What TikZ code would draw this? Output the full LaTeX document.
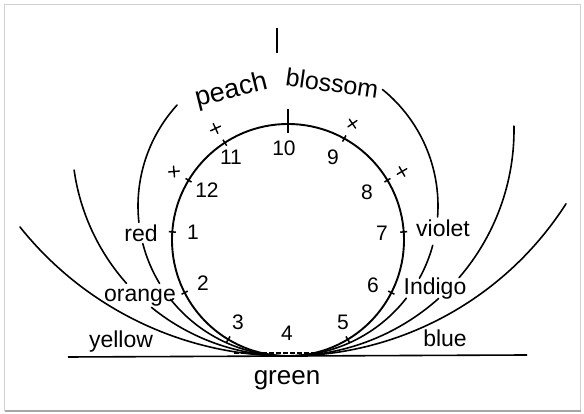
\documentclass[tikz,border=0pt]{standalone}
\usepackage{fontspec}
\setmainfont{Liberation Sans}
\begin{document}
\begin{tikzpicture}[x=1pt,y=1pt,
  curve/.style={line width=1.6pt, line cap=round},
  circ/.style={line width=1.9pt},
  tickmark/.style={line width=1.5pt},
  numlbl/.style={font=\fontsize{21}{21}\selectfont, inner sep=0pt},
  colorlbl/.style={font=\fontsize{23}{23}\selectfont, inner sep=0pt, anchor=base},
  toplbl/.style={font=\fontsize{27}{27}\selectfont, inner sep=0pt, anchor=base},
  crossmark/.pic={\draw[line width=1.4pt, line cap=round] (-5.5,0)--(5.5,0) (0,-5.5)--(0,5.5);}
]
\useasboundingbox (0,0) rectangle (584,414);
% frame
\draw[gray!35, line width=0.8pt] (4.5,4) rectangle (580.5,410);
\draw[gray!70, line width=1.6pt] (4.5,3) -- (580.5,3);

\coordinate (C) at (288,174);   % main circle
\coordinate (Cr) at (288,208);  % red / violet
\coordinate (Co) at (288,274);  % orange
\coordinate (Ci) at (288,284);  % indigo
\coordinate (Cy) at (288,401);  % yellow
\coordinate (Cb) at (288,388);  % blue

% ground line and top bar
\draw[line width=1.6pt] (68,57) -- (527,59);
\draw[line width=1.6pt] (277,361) -- (277,386);

% main circle
\draw[circ] (C) circle[radius=116];

% red curve (left part of red/violet circle)
\draw[curve] (Cr) ++(137.7:150) arc[start angle=137.7, end angle=186.3, radius=150];
\draw[curve] (Cr) ++(194.5:150) arc[start angle=194.5, end angle=211.1, radius=150];
\draw[curve] (Cr) ++(218.5:150) arc[start angle=218.5, end angle=270, radius=150];
% violet curve
\draw[curve] (Cr) ++(51:150) arc[start angle=51, end angle=-4.2, radius=150];
\draw[curve] (Cr) ++(-15.2:150) arc[start angle=-15.2, end angle=-28.8, radius=150];
\draw[curve] (Cr) ++(-37.9:150) arc[start angle=-37.9, end angle=-90, radius=150];
% orange curve
\draw[curve] (Co) ++(188:216) arc[start angle=188, end angle=221.6, radius=216];
\draw[curve] (Co) ++(230.8:216) arc[start angle=230.8, end angle=270, radius=216];
% indigo curve
\draw[curve] (Ci) ++(1:226) arc[start angle=1, end angle=-40.8, radius=226];
\draw[curve] (Ci) ++(-48.2:226) arc[start angle=-48.2, end angle=-90, radius=226];
% yellow curve
\draw[curve] (Cy) ++(218.6:343) arc[start angle=218.6, end angle=270, radius=343];
% blue curve
\draw[curve] (Cb) ++(-32.6:330) arc[start angle=-32.6, end angle=-90, radius=330];

% scribble at the bottom
\draw[line width=1.2pt, dash pattern=on 5pt off 2pt] (234,61) -- (332,61);

% ticks on main circle
\foreach \a in {176,207,239,301,333,4,31,61,123,149}
  \draw[tickmark] (C) ++(\a:112.5) -- ++(\a:7);
\draw[tickmark] (C) ++(90:107) -- ++(90:24);

% crosses
\path (C) ++(123:133) pic[rotate=25] {crossmark};
\path (C) ++(149:133) pic[rotate=5] {crossmark};
\path (C) ++(61:133) pic[rotate=35] {crossmark};
\path (C) ++(31:133) pic[rotate=30] {crossmark};

% numbers
\node[numlbl] (n1) at (193,182) {1};
\node[numlbl] (n2) at (203,131) {2};
\node[numlbl] (n3) at (238,92) {3};
\node[numlbl] (n4) at (287,81) {4};
\node[numlbl] (n5) at (343,92) {5};
\node[numlbl] (n6) at (373,129) {6};
\node[numlbl] (n7) at (382,181) {7};
\node[numlbl] (n8) at (367,222) {8};
\node[numlbl] (n9) at (333,257) {9};
\node[numlbl] (n10) at (284,266) {10};
\node[numlbl] (n11) at (231,257) {11};
\node[numlbl] (n12) at (207,224) {12};

% colour names
\node[colorlbl] (red) at (141,172) {red};
\node[colorlbl] (orange) at (140,112) {orange};
\node[colorlbl] (yellow) at (121,66) {yellow};
\node[colorlbl] (violet) at (443,177) {violet};
\node[colorlbl] (indigo) at (435,119) {Indigo};
\node[colorlbl] (blue) at (445,67) {blue};
\node[colorlbl, font=\fontsize{26}{26}\selectfont] (green) at (287,29) {green};

% peach blossom
\node[toplbl, rotate=14] (peach) at (233,316) {peach};
\node[toplbl, rotate=-8, font=\fontsize{25}{25}\selectfont] (blossom) at (331,322) {blossom};
\end{tikzpicture}
\end{document}
